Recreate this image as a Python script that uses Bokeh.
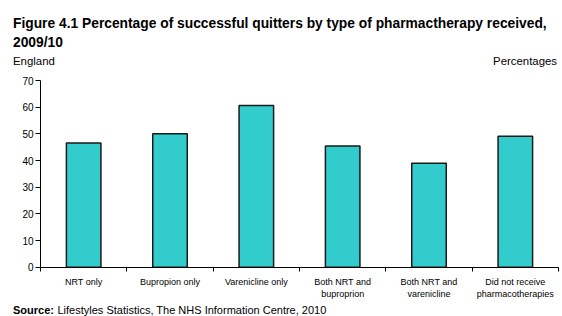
from bokeh.plotting import figure
from bokeh.models import Range1d, FixedTicker, Label, ColumnDataSource
from bokeh.embed import file_html
from bokeh.resources import INLINE

categories = ["NRT only", "Bupropion only", "Varenicline only",
              "Both NRT and\nbuproprion", "Both NRT and\nvarenicline",
              "Did not receive\npharmacotherapies"]
values = [46.6, 50.0, 60.6, 45.4, 39.0, 49.1]
y_ticks = [0, 10, 20, 30, 40, 50, 60, 70]

title_1 = "Figure 4.1 Percentage of successful quitters by type of pharmactherapy received,"
title_2 = "2009/10"
left_note = "England"
right_note = "Percentages"
source_bold = "Source:"
source_text = "Lifestyles Statistics, The NHS Information Centre, 2010"

FONT = "Liberation Sans"
W, H = 562, 316
# pixel layout of the plotting area inside the canvas
PX_L, PX_R = 40, 558      # x of first / last category boundary
PY_TOP, PY_BASE = 80, 266.7  # y of top tick / zero line

n = len(categories)
ymax = y_ticks[-1]
ppc = (PX_R - PX_L) / n
ppu = (PY_BASE - PY_TOP) / ymax

p = figure(width=W, height=H, output_backend="svg", toolbar_location=None,
           x_range=Range1d(-PX_L / ppc, n + (W - PX_R) / ppc),
           y_range=Range1d(-(H - PY_BASE) / ppu, ymax + PY_TOP / ppu),
           min_border=0)
p.outline_line_color = None
p.xgrid.grid_line_color = None
p.ygrid.grid_line_color = None
p.background_fill_color = "white"
p.border_fill_color = "white"

centers = [i + 0.5 for i in range(n)]
bounds = [i for i in range(n + 1)]
src = ColumnDataSource(dict(x=centers, top=values, cat=categories))

p.vbar(x="x", top="top", bottom=0, width=0.4, source=src,
       fill_color="#33CCCC", line_color="#1a1a1a", line_width=1.5)

ya = p.yaxis[0]
ya.fixed_location = 0
ya.bounds = (0, ymax)
ya.ticker = FixedTicker(ticks=y_ticks)
ya.axis_line_color = "black"
ya.major_tick_line_color = "black"
ya.major_tick_out = 5
ya.major_tick_in = 0
ya.minor_tick_line_color = None
ya.major_label_text_font = FONT
ya.major_label_text_font_size = "10px"
ya.major_label_text_color = "black"
ya.major_label_standoff = 2

xa = p.xaxis[0]
xa.fixed_location = 0
xa.bounds = (0, n)
xa.ticker = FixedTicker(ticks=centers, minor_ticks=bounds)
xa.major_label_overrides = {c: t for c, t in zip(centers, categories)}
xa.axis_line_color = "black"
xa.major_tick_line_color = None
xa.major_tick_out = 0
xa.major_tick_in = 0
xa.minor_tick_line_color = "black"
xa.minor_tick_out = 4
xa.minor_tick_in = 0
xa.major_label_text_font = FONT
xa.major_label_text_font_size = "9px"
xa.major_label_text_color = "black"
xa.major_label_standoff = 6


def lab(text, x, y_top, size, bold=False, align="left"):
    # x from canvas left, y_top = baseline from canvas top
    p.add_layout(Label(x=x, y=H - y_top, x_units="screen", y_units="screen", text=text,
                       text_font=FONT, text_font_size=size,
                       text_font_style="bold" if bold else "normal",
                       text_align=align, text_baseline="alphabetic", text_color="black"))


lab(title_1, 12.5, 23, "13.8px", True)
lab(title_2, 12.5, 42, "13.8px", True)
lab(left_note, 12.5, 60, "11.4px")
lab(right_note, 556.5, 60, "11.4px", align="right")
lab(source_bold, 12.5, 309.5, "11px", True)
lab(source_text, 57, 309.5, "11px")

open("out.html", "w").write(file_html(p, INLINE))
